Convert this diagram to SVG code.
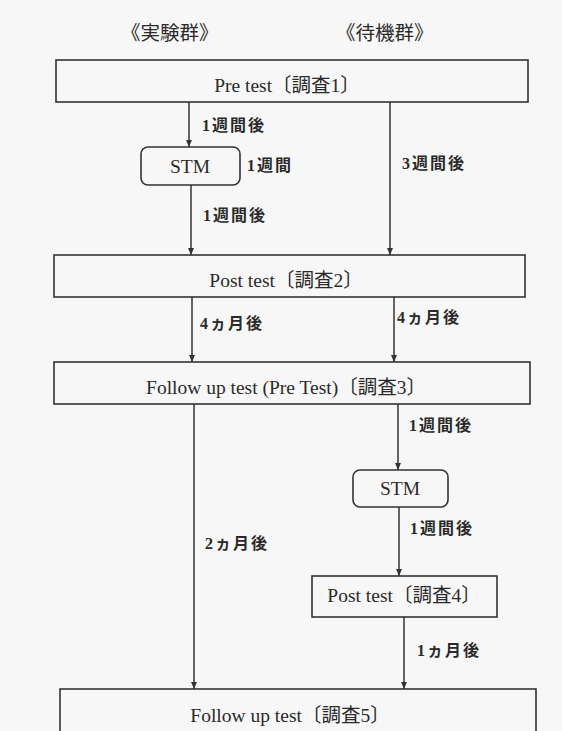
<svg xmlns="http://www.w3.org/2000/svg" width="562" height="731" viewBox="0 0 562 731">
<defs>
<style>
.box{fill:none;stroke:#333;stroke-width:1.6}
.ln{stroke:#333;stroke-width:1.5;fill:none;marker-end:url(#ah)}
.bt{font-family:"Liberation Serif","Noto Sans CJK JP",serif;font-size:19.5px;fill:#2a2a2a;text-anchor:middle}
.lb{font-family:"Liberation Serif","Noto Sans CJK JP",serif;font-size:16px;fill:#2a2a2a;letter-spacing:2px;font-weight:bold}
.hd{font-family:"Noto Sans CJK JP",sans-serif;font-size:19.5px;fill:#2a2a2a}
</style>
<marker id="ah" markerUnits="userSpaceOnUse" markerWidth="8" markerHeight="8" refX="7" refY="4" orient="auto">
<path d="M0,1 L7,4 L0,7 z" fill="#333"/>
</marker>
</defs>
<rect width="562" height="731" fill="#f7f7f7"/>
<g id="headers">
<text class="hd" x="121" y="40">《実験群》</text>
<text class="hd" x="336" y="40">《待機群》</text>
</g>
<g id="connectors">
<line class="ln" x1="189" y1="102" x2="189" y2="147"/>
<line class="ln" x1="191" y1="185" x2="191" y2="255"/>
<line class="ln" x1="390" y1="102" x2="390" y2="255"/>
<line class="ln" x1="192" y1="297" x2="192" y2="362"/>
<line class="ln" x1="394" y1="297" x2="394" y2="362"/>
<line class="ln" x1="398" y1="404" x2="398" y2="470"/>
<line class="ln" x1="399" y1="507" x2="399" y2="576"/>
<line class="ln" x1="194" y1="404" x2="194" y2="689"/>
<line class="ln" x1="404" y1="617" x2="404" y2="689"/>
</g>
<g id="labels">
<text class="lb" x="202" y="131">1週間後</text>
<text class="lb" x="247" y="171">1週間</text>
<text class="lb" x="402" y="169">3週間後</text>
<text class="lb" x="203" y="221">1週間後</text>
<text class="lb" x="200" y="329">4ヵ月後</text>
<text class="lb" x="397" y="323">4ヵ月後</text>
<text class="lb" x="409" y="431">1週間後</text>
<text class="lb" x="410" y="534">1週間後</text>
<text class="lb" x="205" y="549">2ヵ月後</text>
<text class="lb" x="417" y="656">1ヵ月後</text>
</g>
<g id="n1">
<rect class="box" x="56" y="60" width="472" height="42"/>
<text class="bt" x="287" y="92">Pre test〔調査1〕</text>
</g>
<g id="stm1">
<rect class="box" x="141" y="147" width="99" height="38" rx="7"/>
<text class="bt" x="190" y="173">STM</text>
</g>
<g id="n2">
<rect class="box" x="54" y="255" width="471" height="42"/>
<text class="bt" x="286" y="287">Post test〔調査2〕</text>
</g>
<g id="n3">
<rect class="box" x="54" y="362" width="476" height="42"/>
<text class="bt" x="286" y="394">Follow up test (Pre Test)〔調査3〕</text>
</g>
<g id="stm2">
<rect class="box" x="353" y="470" width="95" height="37" rx="7"/>
<text class="bt" x="400" y="495">STM</text>
</g>
<g id="n4">
<rect class="box" x="312" y="576" width="185" height="41"/>
<text class="bt" x="404" y="602">Post test〔調査4〕</text>
</g>
<g id="n5">
<rect class="box" x="60" y="689" width="476" height="50"/>
<text class="bt" x="290" y="722">Follow up test〔調査5〕</text>
</g>
</svg>
